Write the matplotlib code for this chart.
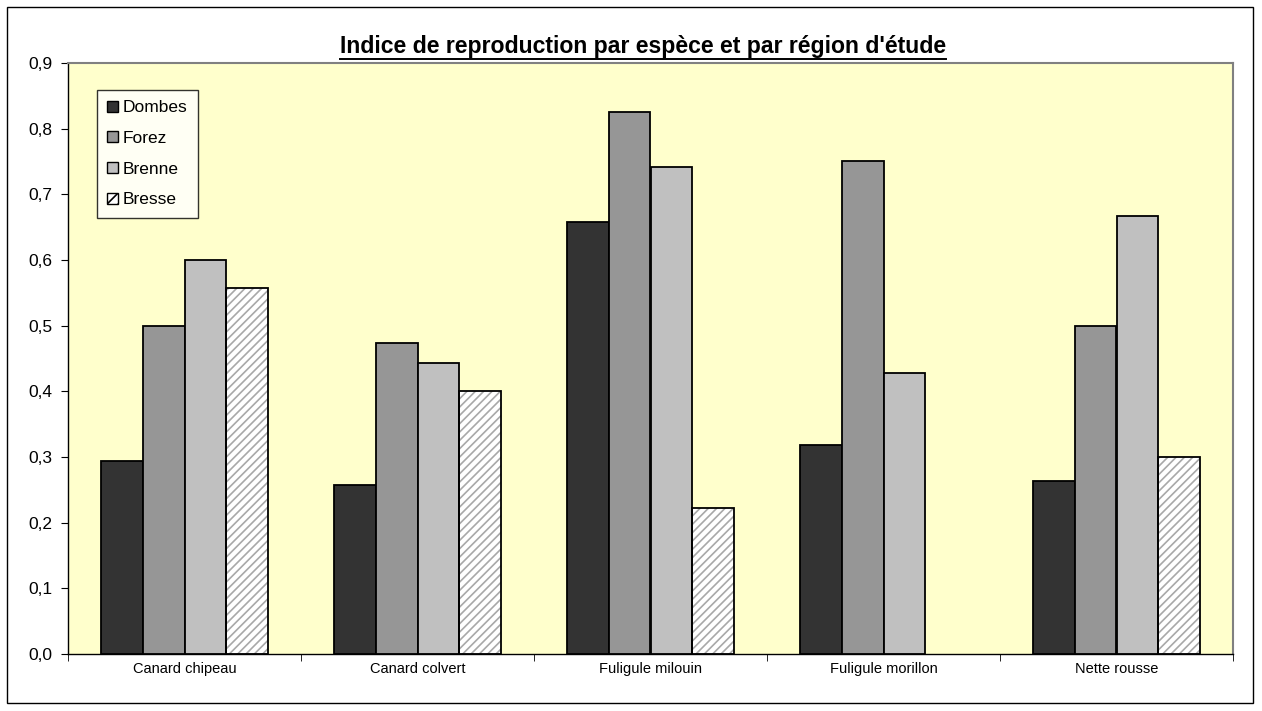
import matplotlib
matplotlib.use("Agg")
import matplotlib.pyplot as plt
from matplotlib.patches import Patch, Rectangle
from matplotlib.lines import Line2D
import numpy as np

plt.rcParams['font.family'] = ['Liberation Sans', 'DejaVu Sans']
plt.rcParams['hatch.color'] = '#a8a8a8'
plt.rcParams['hatch.linewidth'] = 1.2

categories = ["Canard chipeau", "Canard colvert", "Fuligule milouin", "Fuligule morillon", "Nette rousse"]
regions = ["Dombes", "Forez", "Brenne", "Bresse"]
dombes = [0.294, 0.257, 0.658, 0.318, 0.263]
forez = [0.500, 0.474, 0.826, 0.750, 0.500]
brenne = [0.600, 0.443, 0.741, 0.428, 0.667]
bresse = [0.557, 0.400, 0.222, 0.0, 0.300]
yticks = [0.0, 0.1, 0.2, 0.3, 0.4, 0.5, 0.6, 0.7, 0.8, 0.9]
title = "Indice de reproduction par espèce et par région d'étude"

series = [dombes, forez, brenne, bresse]
colors = ['#333333', '#969696', '#c0c0c0', 'white']
hatches = [None, None, None, '////']

W, H = 1262, 711
fig = plt.figure(figsize=(W / 100, H / 100), dpi=100)
fig.patch.set_facecolor('white')
ax = fig.add_axes([68 / W, 1 - 654 / H, (1233 - 68) / W, (654 - 63) / H])
ax.set_facecolor('#ffffcc')

x = np.arange(len(categories))
bw = 0.18
for i, (vals, c, h) in enumerate(zip(series, colors, hatches)):
    pos = x + (i - 1.5) * bw
    v = np.array(vals)
    mask = v > 0
    if h:
        ax.bar(pos[mask], v[mask], width=bw, color=c, hatch=h, edgecolor='#a8a8a8', linewidth=0, zorder=2)
        ax.bar(pos[mask], v[mask], width=bw, facecolor='none', edgecolor='black', linewidth=1.3, zorder=3)
    else:
        ax.bar(pos[mask], v[mask], width=bw, color=c, edgecolor='black', linewidth=1.3, zorder=3)

ax.set_xlim(-0.5, len(categories) - 0.5)
ax.set_ylim(0, 0.9)
ax.set_yticks(yticks)
ax.set_yticklabels([f"{t:.1f}".replace('.', ',') for t in yticks], fontsize=12.5)
ax.set_xticks(x)
ax.set_xticklabels(categories, fontsize=10.5)
ax.tick_params(axis='x', length=0, pad=6)
ax.set_xticks(np.arange(len(categories) + 1) - 0.5, minor=True)
ax.tick_params(axis='x', which='minor', length=5, direction='out', color='black')
ax.tick_params(axis='y', length=5, direction='out', color='black', pad=6)

for s in ['top', 'right']:
    ax.spines[s].set_color('#808080')
    ax.spines[s].set_linewidth(1.5)
for s in ['left', 'bottom']:
    ax.spines[s].set_color('black')
    ax.spines[s].set_linewidth(1.0)

handles = [Patch(facecolor=c, edgecolor='black', hatch=h, linewidth=1.0, label=r)
           for c, h, r in zip(colors, ['', '', '', '///'], regions)]
leg = ax.legend(handles=handles, loc='upper left', bbox_to_anchor=((97 - 68) / (1233 - 68), 1 - (90 - 63) / (654 - 63)),
                frameon=True, fancybox=False, shadow=False, fontsize=12.5,
                handlelength=0.6, handleheight=0.6, handletextpad=0.3,
                labelspacing=0.9, borderpad=0.6, borderaxespad=0)
leg.get_frame().set_edgecolor('black')
leg.get_frame().set_linewidth(1.0)
leg.get_frame().set_facecolor('white')

t = fig.text(0.5 + (643 - 631) / W, 1 - 46 / H, title, ha='center', va='center', fontsize=16.6, fontweight='bold')
fig.canvas.draw()
bb = t.get_window_extent(fig.canvas.get_renderer())
uy = bb.y0 - 1.0
fig.add_artist(Line2D([bb.x0 / W, bb.x1 / W], [uy / H, uy / H], color='black', linewidth=1.4, transform=fig.transFigure))

fig.add_artist(Rectangle((7 / W, 1 - 703 / H), (1253 - 7) / W, (703 - 7) / H, transform=fig.transFigure,
                         fill=False, edgecolor='black', linewidth=1.0))

fig.savefig("out.png", dpi=100)
